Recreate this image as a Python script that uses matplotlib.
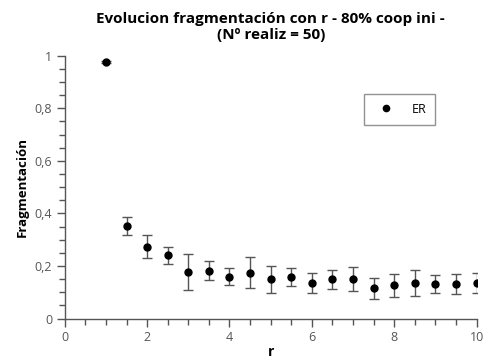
import matplotlib
matplotlib.use("Agg")
import matplotlib.pyplot as plt
from matplotlib.lines import Line2D
from matplotlib.ticker import MultipleLocator, FuncFormatter

# fragmentation vs r, mean and error over 50 realizations
r_vals = [1.0, 1.5, 2.0, 2.5, 3.0, 3.5, 4.0, 4.5, 5.0, 5.5,
          6.0, 6.5, 7.0, 7.5, 8.0, 8.5, 9.0, 9.5, 10.0]
frag = [0.975, 0.352, 0.274, 0.241, 0.178, 0.182, 0.159, 0.174, 0.149, 0.157,
        0.135, 0.149, 0.149, 0.116, 0.126, 0.135, 0.131, 0.131, 0.135]
frag_err = [0.004, 0.035, 0.045, 0.032, 0.069, 0.037, 0.032, 0.059, 0.050, 0.034,
            0.039, 0.037, 0.046, 0.040, 0.045, 0.048, 0.035, 0.037, 0.037]

plt.rcParams['font.family'] = ['Open Sans', 'DejaVu Sans']

fig = plt.figure(figsize=(4.88, 3.62), dpi=100)
ax = fig.add_axes([0.1326, 0.120, 0.8442, 0.726])

ax.errorbar(r_vals, frag, yerr=frag_err, fmt='o', color='black', markersize=5,
            ecolor='#555555', elinewidth=1.0, capsize=3.5, capthick=1.0)

ax.set_xlim(0, 10)
ax.set_ylim(0, 1)
ax.xaxis.set_major_locator(MultipleLocator(2))
ax.xaxis.set_minor_locator(MultipleLocator(0.5))
ax.yaxis.set_major_locator(MultipleLocator(0.2))
ax.yaxis.set_minor_locator(MultipleLocator(0.05))

def coma(v, pos):
    s = ('%g' % round(v, 2))
    return s.replace('.', ',')

ax.xaxis.set_major_formatter(FuncFormatter(coma))
ax.yaxis.set_major_formatter(FuncFormatter(coma))

for s in ['top', 'right']:
    ax.spines[s].set_visible(False)
for s in ['left', 'bottom']:
    ax.spines[s].set_color('#555555')
    ax.spines[s].set_linewidth(1.0)

ax.tick_params(which='major', direction='out', length=6, width=1, color='#555555',
               labelsize=9, labelcolor='#555555', pad=3)
ax.tick_params(which='minor', direction='out', length=4, width=1, color='#555555')

ax.set_xlabel('r', fontsize=10, fontweight='bold', labelpad=1)
ax.set_ylabel('Fragmentación', fontsize=9.5, fontweight='bold', labelpad=4)
ax.set_title('Evolucion fragmentación con r - 80% coop ini -\n(Nº realiz = 50)',
             fontsize=11, fontweight='bold', pad=12, linespacing=1.15)

# legend shows only the marker
handle = Line2D([], [], linestyle='none', marker='o', color='black', markersize=4.5)
leg = ax.legend([handle], ['ER'], loc='upper left', bbox_to_anchor=(0.726, 0.854),
                borderaxespad=0, frameon=True, fancybox=False, fontsize=9,
                handletextpad=1.0, borderpad=0.7, handlelength=2.1)
leg.get_frame().set_edgecolor('#777777')
leg.get_frame().set_linewidth(1.0)

fig.savefig('out.png', dpi=100)
